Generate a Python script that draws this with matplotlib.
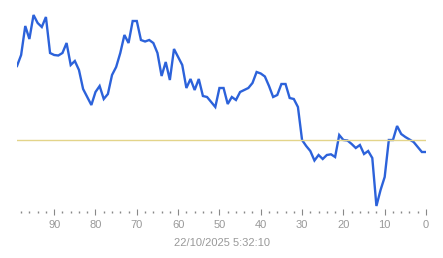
import numpy as np
import matplotlib.pyplot as plt
from matplotlib.ticker import MultipleLocator

# x runs from 99 (oldest) down to 0 (latest)
x_vals = list(range(99, -1, -1))
y_vals = [154, 165, 194, 181, 205, 197, 193, 203, 167, 165,
          164.5, 167, 177, 155, 159, 150, 131, 123, 115, 128,
          134, 121, 126, 145, 153, 167, 185, 177, 199, 199,
          180, 178.5, 180, 177, 167, 144, 158, 140, 171, 163,
          155, 132, 141, 130, 141, 124, 123, 118, 113, 132,
          132, 116, 123, 120, 128, 130, 132, 137, 148, 146.5,
          143.5, 134, 123, 125, 136, 136, 122, 121, 113, 80,
          74, 69, 59.5, 65, 61, 65, 65.7, 63, 85, 80,
          79.5, 76, 72, 75, 66, 69, 62, 14, 30, 43,
          80, 80, 94, 86, 83, 80.5, 78, 73, 68, 68]
ref_level = 79.7
time_label = '22/10/2025 5:32:10'

plt.rcParams['font.family'] = ['Liberation Sans', 'DejaVu Sans']

fig = plt.figure(figsize=(4.43, 2.58), dpi=100)
ax = fig.add_axes([17 / 443, (258 - 212) / 258, (426 - 17) / 443, 212 / 258])

ax.plot(x_vals, y_vals, color='#2c62da', linewidth=1.7, solid_joinstyle='miter')
ax.plot([99, 0], [ref_level, ref_level], color='#e3d48a', linewidth=1.0)

ax.set_xlim(99, 0)
ax.set_ylim(8, 220)
for s in ax.spines.values():
    s.set_visible(False)
ax.set_yticks([])
ax.xaxis.set_major_locator(MultipleLocator(10))
ax.xaxis.set_minor_locator(MultipleLocator(2))
ax.tick_params(axis='x', which='major', direction='inout', length=5, width=0.8,
               color='#888888', labelcolor='#999999', labelsize=8, pad=3)
ax.tick_params(axis='x', which='minor', direction='inout', length=1.5, width=1,
               color='#888888')
ax.set_xlabel(time_label, color='#999999', fontsize=8, labelpad=6)

plt.savefig('out.png', dpi=100)
